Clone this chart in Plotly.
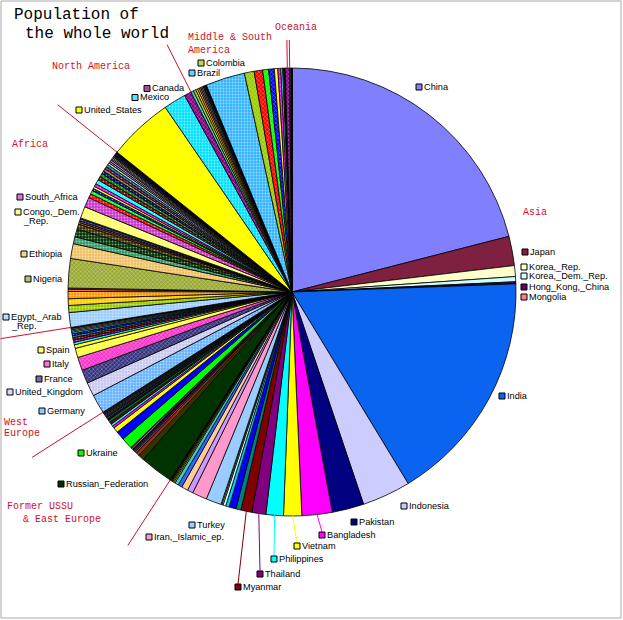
import math
import plotly.graph_objects as go

# ---------------- data: population (millions, c. 2000), in chart order ----------------
asia_countries = ["China", "Japan", "Korea,_Rep.", "Korea,_Dem._Rep.", "Hong_Kong,_China", "Mongolia",
                  "India", "Indonesia", "Pakistan", "Bangladesh", "Vietnam", "Philippines", "Thailand", "Myanmar",
                  "Malaysia", "Nepal", "Sri_Lanka", "Cambodia", "Lao_PDR", "Singapore",
                  "Turkey", "Iran,_Islamic_Rep.", "Iraq", "Saudi_Arabia", "Yemen,_Rep.", "Syrian_Arab_Republic",
                  "Israel", "Jordan", "Lebanon", "United_Arab_Emirates", "Oman", "Kuwait", "Bahrain", "Qatar"]
asia_pop = [1262.6, 126.9, 47.3, 22.3, 6.7, 2.4,
            1015.9, 210.4, 138.1, 131.1, 78.5, 75.6, 60.7, 47.7,
            22.0, 30.0, 15.0, 12.0, 5.3, 4.0,
            66.8, 63.7, 25.0, 28.0, 17.5, 16.2, 6.2, 4.9, 4.3, 2.9, 2.4, 2.0, 0.7, 0.6]

fsu_countries = ["Russian_Federation", "Uzbekistan", "Kazakhstan", "Azerbaijan", "Tajikistan", "Turkmenistan",
                 "Kyrgyz_Republic", "Georgia", "Armenia", "Ukraine", "Poland", "Romania", "Belarus",
                 "Czech_Republic", "Hungary", "Yugoslavia,_FR", "Bulgaria", "Slovak_Republic", "Croatia",
                 "Moldova", "Bosnia_and_Herzegovina", "Lithuania", "Albania", "Latvia", "Macedonia,_FYR",
                 "Slovenia", "Estonia"]
fsu_pop = [145.6, 24.8, 14.9, 8.0, 6.2, 5.2, 4.9, 5.0, 3.8, 49.5, 38.6, 22.4, 10.0,
           10.3, 10.0, 10.6, 8.2, 5.4, 4.4, 4.3, 3.8, 3.7, 3.4, 2.4, 2.0, 2.0, 1.4]

weu_countries = ["Germany", "United_Kingdom", "France", "Italy", "Spain", "Netherlands", "Greece", "Belgium",
                 "Portugal", "Sweden", "Austria", "Switzerland", "Denmark", "Finland", "Norway", "Ireland",
                 "Cyprus", "Luxembourg", "Malta", "Iceland"]
weu_pop = [82.2, 59.7, 58.9, 57.7, 39.9, 15.9, 10.6, 10.3, 10.0, 8.9, 8.1, 7.2, 5.3, 5.2, 4.5, 3.8,
           0.8, 0.4, 0.4, 0.3]

africa_countries = ["Egypt,_Arab_Rep.", "Algeria", "Morocco", "Sudan", "Tunisia", "Libya", "Nigeria", "Ethiopia",
                    "Kenya", "Tanzania", "Uganda", "Rwanda", "Burundi", "Somalia", "Eritrea",
                    "Congo,_Dem._Rep.", "South_Africa", "Mozambique", "Madagascar", "Malawi", "Zambia", "Zimbabwe",
                    "Ghana", "Cote_d'Ivoire", "Cameroon", "Angola", "Burkina_Faso", "Mali", "Niger", "Senegal",
                    "Chad", "Guinea", "Benin", "Sierra_Leone", "Togo", "Central_African_Republic", "Liberia",
                    "Congo,_Rep.", "Mauritania", "Lesotho", "Namibia", "Botswana", "Gambia,_The", "Guinea-Bissau",
                    "Gabon", "Mauritius", "Swaziland", "Djibouti", "Comoros", "Equatorial_Guinea", "Cape_Verde",
                    "Sao_Tome_and_Principe", "Seychelles"]
africa_pop = [64.0, 30.4, 28.7, 31.1, 9.6, 5.3, 126.9, 64.3,
              30.1, 33.7, 22.2, 8.5, 6.8, 8.8, 4.1,
              50.9, 42.8, 17.7, 15.5, 10.3, 10.1, 12.6,
              19.3, 16.0, 14.9, 13.1, 11.3, 10.8, 10.8, 9.5, 7.7, 7.4,
              6.3, 5.0, 4.6, 3.7, 3.1, 3.0, 2.7, 2.0, 1.8, 1.6,
              1.3, 1.2, 1.2, 1.2, 1.0, 0.6, 0.5, 0.5, 0.4, 0.1, 0.1]

nam_countries = ["United_States", "Mexico", "Canada"]
nam_pop = [282.2, 97.2, 30.8]

latam_countries = ["Guatemala", "Cuba", "Dominican_Republic", "Haiti", "Honduras", "El_Salvador", "Nicaragua",
                   "Puerto_Rico", "Costa_Rica", "Panama", "Jamaica", "Trinidad_and_Tobago", "Barbados",
                   "Bahamas,_The", "Belize", "Brazil", "Colombia", "Argentina", "Peru", "Venezuela,_RB", "Chile",
                   "Ecuador", "Bolivia", "Paraguay", "Uruguay", "Guyana", "Suriname"]
latam_pop = [11.4, 11.2, 8.4, 8.0, 6.4, 6.3, 5.1, 3.9, 3.8, 2.9, 2.6, 1.3, 0.3, 0.3, 0.2,
             170.4, 42.3, 37.0, 25.7, 24.2, 15.2, 12.6, 8.3, 5.5, 3.3, 0.8, 0.4]

oceania_countries = ["Australia", "Papua_New_Guinea", "New_Zealand", "Fiji", "Solomon_Islands", "Vanuatu", "Samoa"]
oceania_pop = [19.2, 5.1, 3.8, 0.8, 0.4, 0.2, 0.2]

region_names = ["Asia", "Former USSU & East Europe", "West Europe", "Africa", "North America",
                "Middle & South America", "Oceania"]

# ---------------- layout / style ----------------
W, H = 623, 620
CX, CY, R = 292.0, 292.0, 224.0

groups = [(asia_countries, asia_pop), (fsu_countries, fsu_pop), (weu_countries, weu_pop),
          (africa_countries, africa_pop), (nam_countries, nam_pop), (latam_countries, latam_pop),
          (oceania_countries, oceania_pop)]
countries, pops, region_start = [], [], []
for c, p in groups:
    region_start.append(len(countries))
    countries += c
    pops += p
total = sum(pops)
cum = [0.0]
for v in pops:
    cum.append(cum[-1] + v)


def frac_at(i):
    return cum[i] / total


def pt(frac, r):
    a = 2 * math.pi * frac
    return CX + r * math.sin(a), CY - r * math.cos(a)


def P(x, y):
    return x / W, 1 - y / H


PAL = ["#9999FF", "#993366", "#FFFFCC", "#CCFFFF", "#660066", "#FF8080", "#0066CC", "#CCCCFF",
       "#000080", "#FF00FF", "#FFFF00", "#00FFFF", "#800080", "#800000", "#008080", "#0000FF",
       "#00CCFF", "#CCFFFF", "#CCFFCC", "#FFFF99", "#99CCFF", "#FF99CC", "#CC99FF", "#FFCC99",
       "#3366FF", "#33CCCC", "#99CC00", "#FFCC00", "#FF9900", "#FF6600", "#666699", "#969696",
       "#003366", "#339966", "#003300", "#333300", "#993300", "#993366", "#333399", "#333333",
       "#000000", "#FFFFFF", "#FF0000", "#00FF00", "#0000FF", "#FFFF00", "#FF00FF", "#00FFFF",
       "#800000", "#008000", "#000080", "#808000", "#800080", "#008080", "#C0C0C0", "#808080"]
SHAPE_CYCLE = ["", ".", "x", "+"]
OVERRIDE = {
    "China": ("#8080FF", ""), "Japan": ("#802040", ""), "India": ("#0A64F0", ""),
    "Germany": ("#66B3FF", "."), "United_Kingdom": ("#C8C8F0", "."), "France": ("#333380", "x"),
    "Italy": ("#FF33CC", "x"), "Spain": ("#FFFF33", "."), "Egypt,_Arab_Rep.": ("#99CCFF", "."),
    "Nigeria": ("#99AA33", "x"), "Ethiopia": ("#F0C060", "."), "Congo,_Dem._Rep.": ("#FFFF66", "."),
    "South_Africa": ("#CC33CC", "."), "United_States": ("#FFFF00", ""), "Mexico": ("#00E0FF", "."),
    "Canada": ("#800080", "x"), "Brazil": ("#33B5FF", "."), "Colombia": ("#99CC00", "x"),
}
colors, shapes = [], []
for i, c in enumerate(countries):
    col, sh = PAL[i % 56], SHAPE_CYCLE[min(i // 56, 3)]
    if c in OVERRIDE:
        col, sh = OVERRIDE[c]
    colors.append(col)
    shapes.append(sh)

fig = go.Figure(go.Pie(
    labels=countries, values=pops, sort=False, direction="clockwise", rotation=0,
    textinfo="none", showlegend=False,
    marker=dict(colors=colors, line=dict(color="black", width=0.8),
                pattern=dict(shape=shapes, fgcolor="white", fillmode="overlay", size=3, solidity=0.3)),
    domain=dict(x=[(CX - R) / W, (CX + R) / W], y=[1 - (CY + R) / H, 1 - (CY - R) / H]),
))

# label marker positions (px): left of marker square, vertical center
LABEL_POS = {
    "China": (416, 87), "Japan": (522, 252), "Korea,_Rep.": (521, 267), "Korea,_Dem._Rep.": (521, 276),
    "Hong_Kong,_China": (521, 287), "Mongolia": (521, 297), "India": (499, 396), "Indonesia": (401, 506),
    "Pakistan": (351, 522), "Bangladesh": (319, 535), "Vietnam": (294, 546), "Philippines": (271, 559),
    "Thailand": (257, 574), "Myanmar": (235, 587), "Turkey": (189, 525), "Iran,_Islamic_Rep.": (146, 537),
    "Russian_Federation": (58, 484), "Ukraine": (78, 453), "Germany": (39, 411), "United_Kingdom": (7, 392),
    "France": (36, 379), "Italy": (44, 364), "Spain": (38, 350), "Egypt,_Arab_Rep.": (3, 317),
    "Nigeria": (25, 279), "Ethiopia": (21, 254), "Congo,_Dem._Rep.": (15, 212), "South_Africa": (17, 197),
    "United_States": (76, 110), "Mexico": (132, 97.5), "Canada": (144, 88.5), "Brazil": (189, 73),
    "Colombia": (198, 63),
}
LABEL_TEXT = {"Iran,_Islamic_Rep.": ["Iran,_Islamic_ep."], "Egypt,_Arab_Rep.": ["Egypt,_Arab", "_Rep."],
              "Congo,_Dem._Rep.": ["Congo,_Dem.", "_Rep."]}
LEADERS = ["Bangladesh", "Vietnam", "Philippines", "Thailand", "Myanmar"]

LBL_FONT = dict(family="Liberation Sans, Arial, sans-serif", size=9.2, color="black")
RED = "#D0102A"
REG_FONT = dict(family="Liberation Mono, DejaVu Sans Mono, monospace", size=10, color=RED)

shapes_l, ann = [], []


def mix(c, t=0.3):
    c = c.lstrip("#")
    r, g, b = (int(c[k:k + 2], 16) for k in (0, 2, 4))
    return "rgb(%d,%d,%d)" % (r + (255 - r) * t, g + (255 - g) * t, b + (255 - b) * t)


for name, (mx, my) in LABEL_POS.items():
    i = countries.index(name)
    fill = colors[i] if shapes[i] == "" else mix(colors[i])
    if name in LEADERS:
        mid = (cum[i] + pops[i] / 2) / total
        ex, ey = pt(mid, R)
        x0, y0 = P(ex, ey)
        x1, y1 = P(mx + 3, my - 3)
        shapes_l.append(dict(type="line", xref="paper", yref="paper", x0=x0, y0=y0, x1=x1, y1=y1,
                             line=dict(color=colors[i], width=1)))
    x0, y0 = P(mx, my + 3)
    x1, y1 = P(mx + 6, my - 3)
    shapes_l.append(dict(type="rect", xref="paper", yref="paper", x0=x0, y0=y0, x1=x1, y1=y1,
                         fillcolor=fill, line=dict(color="black", width=1)))
    lines = LABEL_TEXT.get(name, [name])
    for k, t in enumerate(lines):
        ax, ay = P(mx + 7, my + 9.3 * k)
        ann.append(dict(x=ax, y=ay, xref="paper", yref="paper", text=t, showarrow=False,
                        xanchor="left", yanchor="middle", font=LBL_FONT, borderpad=0))

# region separator lines (drawn radially at region boundaries)
LINE_R = {1: 302, 2: 308, 3: 300, 4: 300, 5: 277}
for k, rout in LINE_R.items():
    f = frac_at(region_start[k])
    ax_, ay_ = pt(f, R)
    bx, by = pt(f, rout)
    x0, y0 = P(ax_, ay_)
    x1, y1 = P(bx, by)
    shapes_l.append(dict(type="line", xref="paper", yref="paper", x0=x0, y0=y0, x1=x1, y1=y1,
                         line=dict(color=RED, width=1)))
# Oceania double line
f_oc = (frac_at(region_start[6]) + 1.0) / 2
for dx in (-1.2, 1.2):
    ax_, ay_ = pt(f_oc, R)
    bx, by = pt(f_oc, 252)
    x0, y0 = P(ax_ + dx, ay_)
    x1, y1 = P(bx + dx, by)
    shapes_l.append(dict(type="line", xref="paper", yref="paper", x0=x0, y0=y0, x1=x1, y1=y1,
                         line=dict(color=RED, width=1)))

REGION_TEXT = [("Oceania", 275, 27.5), ("Middle & South", 188, 37.7), ("America", 188, 50.5),
               ("North America", 52, 66), ("Africa", 11.5, 144), ("Asia", 523, 212),
               ("West", 4, 422), ("Europe", 4, 433.5), ("Former USSU", 7, 506), ("& East Europe", 22.5, 519)]
for t, x, y in REGION_TEXT:
    ax, ay = P(x - 2, y)
    ann.append(dict(x=ax, y=ay, xref="paper", yref="paper", text=t, showarrow=False,
                    xanchor="left", yanchor="middle", font=REG_FONT))

TITLE_FONT = dict(family="Liberation Mono, DejaVu Sans Mono, monospace", size=16, color="black")
for t, x, y in [("Population of", 14, 15), ("the whole world", 25, 33.5)]:
    ax, ay = P(x - 2, y)
    ann.append(dict(x=ax, y=ay, xref="paper", yref="paper", text=t, showarrow=False,
                    xanchor="left", yanchor="middle", font=TITLE_FONT))

# outer frame
fx0, fy0 = P(1, 618)
fx1, fy1 = P(621, 1)
shapes_l.append(dict(type="rect", xref="paper", yref="paper", x0=fx0, y0=fy0, x1=fx1, y1=fy1,
                     line=dict(color="#A8A8A8", width=1), fillcolor="rgba(0,0,0,0)"))

fig.update_layout(width=W, height=H, margin=dict(l=0, r=0, t=0, b=0, pad=0),
                  paper_bgcolor="white", plot_bgcolor="white", shapes=shapes_l, annotations=ann)
fig.write_html("out.html", config={"displayModeBar": False},
               post_script="document.body.style.margin='0';document.body.style.padding='0';")
